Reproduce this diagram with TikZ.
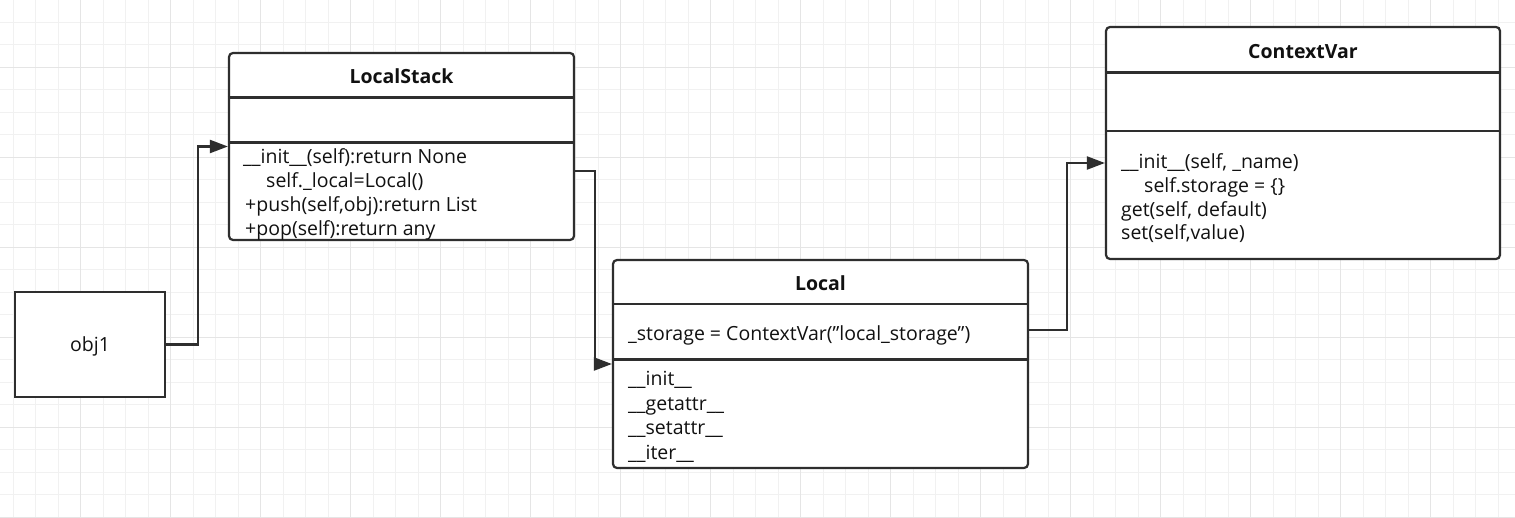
\documentclass[tikz,border=0pt]{standalone}
\usepackage{fontspec}
\setmainfont{Open Sans}
\usetikzlibrary{arrows.meta}
\definecolor{ln}{HTML}{2E2E2E}
\definecolor{gridminor}{HTML}{F1F1F1}
\definecolor{gridmajor}{HTML}{E5E5E5}
\definecolor{txt}{HTML}{111111}
\begin{document}
\begin{tikzpicture}[x=1pt,y=-1pt,
  classbox/.style={draw=ln, line width=2.2pt, rounded corners=4pt, fill=white, inner sep=0pt},
  plainbox/.style={draw=ln, line width=2.2pt, fill=white, inner sep=0pt},
  divider/.style={draw=ln, line width=2.2pt},
  title/.style={font=\fontsize{19.5}{23}\selectfont\bfseries, text=txt, inner sep=0pt, text height=18pt, text depth=3pt},
  body/.style={font=\fontsize{19.5}{23}\selectfont, text=txt, anchor=west, inner sep=0pt, text height=18pt, text depth=3pt},
  conn/.style={draw=ln, line width=2.2pt, -{Triangle[length=18pt,width=13pt]}}]
\useasboundingbox (0,0) rectangle (1515,518);
\fill[white] (0,0) rectangle (1515,518);
% grid
\foreach \i in {0,...,66} \draw[gridminor, line width=1pt] (13.3+22.5*\i,0) -- (13.3+22.5*\i,518);
\foreach \i in {0,...,22} \draw[gridminor, line width=1pt] (0,22.3+22.5*\i) -- (1515,22.3+22.5*\i);
\foreach \i in {0,...,15} \draw[gridmajor, line width=1pt] (80.7+90*\i,0) -- (80.7+90*\i,518);
\foreach \i in {0,...,5} \draw[gridmajor, line width=1pt] (0,67.3+90*\i) -- (1515,67.3+90*\i);

% obj1
\node[plainbox, minimum width=150pt, minimum height=105pt] (obj) at (90,344.5) {};
\node[body, anchor=center] (objt) at (obj.center) {obj1};

% LocalStack
\node[classbox, minimum width=345pt, minimum height=187pt] (ls) at (401.5,146.5) {};
\node[title] (lst) at (401.5,76) {LocalStack};
\draw[divider] (ls.west |- 0,97.5) -- (ls.east |- 0,97.5);
\draw[divider] (ls.west |- 0,142.5) -- (ls.east |- 0,142.5);
\node[body] (ls1) at (243,156) {\_\_init\_\_(self):return None};
\node[body] (ls2) at (266,180) {self.\_local=Local()};
\node[body] (ls3) at (245,204.5) {+push(self,obj):return List};
\node[body] (ls4) at (245,228.5) {+pop(self):return any};

% Local
\node[classbox, minimum width=415pt, minimum height=208pt] (lc) at (820.5,364) {};
\node[title] (lct) at (820.5,283) {Local};
\draw[divider] (lc.west |- 0,304) -- (lc.east |- 0,304);
\draw[divider] (lc.west |- 0,359.5) -- (lc.east |- 0,359.5);
\node[body] (lc0) at (628,333) {\_storage = ContextVar(\symbol{34}local\_storage\symbol{34})};
\node[body] (lc1) at (628,378) {\_\_init\_\_};
\node[body] (lc2) at (628,402.5) {\_\_getattr\_\_};
\node[body] (lc3) at (628,427) {\_\_setattr\_\_};
\node[body] (lc4) at (628,451.5) {\_\_iter\_\_};

% ContextVar
\node[classbox, minimum width=394pt, minimum height=232pt] (cv) at (1303,143) {};
\node[title] (cvt) at (1303,51.5) {ContextVar};
\draw[divider] (cv.west |- 0,72.5) -- (cv.east |- 0,72.5);
\draw[divider] (cv.west |- 0,131) -- (cv.east |- 0,131);
\node[body] (cv1) at (1121,161.5) {\_\_init\_\_(self, \_name)};
\node[body] (cv2) at (1144,185) {self.storage = \{\}};
\node[body] (cv3) at (1121,209) {get(self, default)};
\node[body] (cv4) at (1121,232.5) {set(self,value)};

% connectors
\draw[conn] (obj.east) -- ++(32,0) |- (ls.west);
\draw[conn] ([yshift=-24.5pt]ls.east) -- ++(20,0) |- (lc.west);
\draw[conn] ([yshift=34pt]lc.east) -- ++(38,0) |- ([yshift=-20pt]cv.west);
\end{tikzpicture}
\end{document}
